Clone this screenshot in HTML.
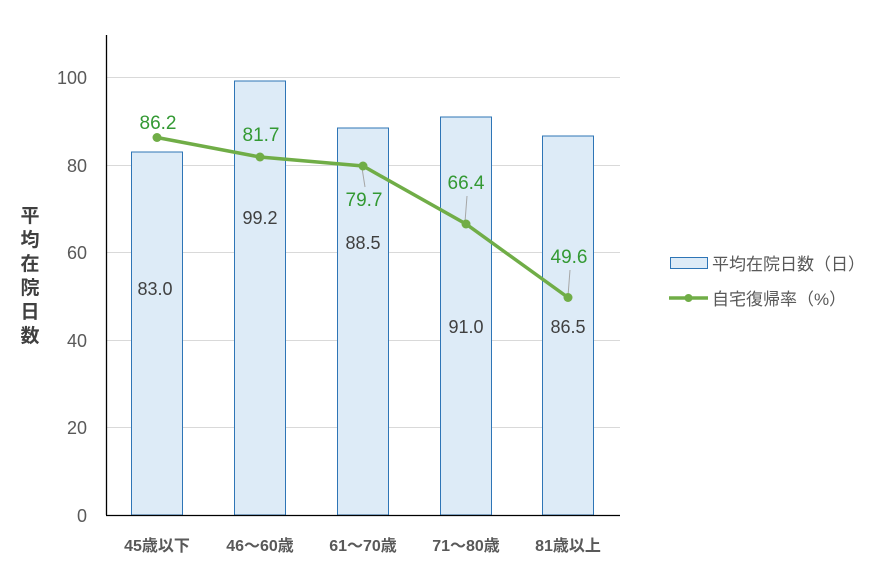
<!DOCTYPE html>
<html><head><meta charset="utf-8"><style>
body{margin:0;background:#fff;}
svg text{font-family:"Liberation Sans","Noto Sans CJK JP",sans-serif;}
</style></head><body>
<svg width="879" height="574" xmlns="http://www.w3.org/2000/svg">
<g stroke="#d9d9d9" stroke-width="1">
<line x1="106" x2="620" y1="77.5" y2="77.5"/>
<line x1="106" x2="620" y1="165.5" y2="165.5"/>
<line x1="106" x2="620" y1="252.5" y2="252.5"/>
<line x1="106" x2="620" y1="340.5" y2="340.5"/>
<line x1="106" x2="620" y1="427.5" y2="427.5"/>
</g>
<g fill="#ddebf7" stroke="#2e75b6" stroke-width="1">
<rect x="131.5" y="152" width="51" height="363"/>
<rect x="234.5" y="81" width="51" height="434"/>
<rect x="337.5" y="128" width="51" height="387"/>
<rect x="440.5" y="117" width="51" height="398"/>
<rect x="542.5" y="136" width="51" height="379"/>
</g>
<line x1="106.5" x2="106.5" y1="35" y2="515" stroke="#000" stroke-width="1.3"/>
<line x1="106" x2="620" y1="515.5" y2="515.5" stroke="#000" stroke-width="1.3"/>
<g font-size="18" fill="#595959" text-anchor="end">
<text x="87" y="84">100</text><text x="87" y="172">80</text><text x="87" y="259">60</text>
<text x="87" y="347">40</text><text x="87" y="434">20</text><text x="87" y="522">0</text>
</g>
<g font-size="16" font-weight="bold" fill="#595959" text-anchor="middle">
<text x="157" y="551">45歳以下</text><text x="260" y="551">46～60歳</text>
<text x="363" y="551">61～70歳</text><text x="466" y="551">71～80歳</text>
<text x="568" y="551">81歳以上</text>
</g>
<g font-size="19" font-weight="bold" fill="#404040" text-anchor="middle">
<text x="30" y="222">平</text><text x="30" y="246">均</text><text x="30" y="270">在</text>
<text x="30" y="294">院</text><text x="30" y="318">日</text><text x="30" y="342">数</text>
</g>
<g font-size="18" fill="#404040" text-anchor="middle">
<text x="155" y="295">83.0</text><text x="260" y="224">99.2</text>
<text x="363" y="249">88.5</text><text x="466" y="333">91.0</text><text x="568" y="333">86.5</text>
</g>
<line x1="362" y1="168" x2="365" y2="187" stroke="#a6a6a6"/>
<line x1="465" y1="222" x2="467" y2="196" stroke="#a6a6a6"/>
<line x1="568" y1="296" x2="570" y2="270" stroke="#a6a6a6"/>
<polyline points="157,137.5 260,157 363,166 466,224 568,297.5" fill="none" stroke="#70ad47" stroke-width="3.5"/>
<g fill="#70ad47"><circle cx="157" cy="137.5" r="4.5"/><circle cx="260" cy="157" r="4.5"/><circle cx="363" cy="166" r="4.5"/><circle cx="466" cy="224" r="4.5"/><circle cx="568" cy="297.5" r="4.5"/></g>
<g font-size="19" fill="#339933" text-anchor="middle">
<text x="158" y="129">86.2</text><text x="261" y="141">81.7</text>
<text x="364" y="206">79.7</text><text x="466" y="189">66.4</text><text x="569" y="263">49.6</text>
</g>
<rect x="670.5" y="257.5" width="37" height="11" fill="#ddebf7" stroke="#2e75b6"/>
<text x="712" y="270" font-size="17" fill="#595959">平均在院日数（日）</text>
<line x1="669" x2="708" y1="298" y2="298" stroke="#70ad47" stroke-width="3.5"/>
<circle cx="688.5" cy="298" r="4" fill="#70ad47"/>
<text x="712" y="305" font-size="17" fill="#595959">自宅復帰率（%）</text>
</svg>
</body></html>
